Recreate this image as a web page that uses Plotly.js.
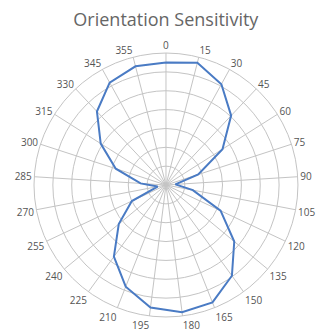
<!DOCTYPE html>
<html>
<head>
<meta charset="utf-8">
<script src="https://cdn.plot.ly/plotly-3.0.1.min.js"></script>
<style>html,body{margin:0;padding:0;background:#fff;}#chart{width:319px;height:333px;}</style>
</head>
<body>
<div id="chart"></div>
<script>
// Angular categories (tick labels as printed on the chart)
const angles = ["0","15","30","45","60","75","90","105","120","135","150","165","180",
                "195","210","225","240","255","270","285","300","315","330","345","355"];
// Sensitivity value per orientation
const sensitivity = [130,134,122,101,71,36,10,29,64,94,119,134,136,
                     131,116,94,65,40,9,27,56,82,107,124,130];

// close the loop by returning to the first category
const theta = angles.concat([angles[0]]);
const r = sensitivity.concat([sensitivity[0]]);

const trace = {
  type: 'scatterpolar',
  mode: 'lines',
  theta: theta,
  r: r,
  line: {color: '#4a7bc4', width: 2},
  hoverinfo: 'skip',
  showlegend: false
};

const layout = {
  width: 319,
  height: 333,
  margin: {l: 0, r: 0, t: 0, b: 0},
  paper_bgcolor: '#ffffff',
  font: {family: 'Open Sans, DejaVu Sans, sans-serif', color: '#555555'},
  title: {
    text: 'Orientation Sensitivity',
    font: {size: 18, color: '#666666', family: 'Open Sans, sans-serif'},
    x: 0.52, xanchor: 'center',
    y: 0.94, yanchor: 'middle'
  },
  polar: {
    domain: {x: [0.1066, 0.934], y: [0.048, 0.8408]},
    bgcolor: '#ffffff',
    angularaxis: {
      type: 'category',
      direction: 'clockwise',
      rotation: 90,
      showgrid: true,
      gridcolor: '#c4c4c4',
      gridwidth: 1,
      showline: true,
      linecolor: '#c4c4c4',
      linewidth: 1,
      ticks: '',
      tickfont: {size: 10, color: '#555555'}
    },
    radialaxis: {
      range: [0, 140],
      dtick: 20,
      showgrid: true,
      gridcolor: '#c4c4c4',
      gridwidth: 1,
      showline: false,
      showticklabels: false,
      ticks: ''
    }
  }
};

Plotly.newPlot('chart', [trace], layout, {displayModeBar: false, staticPlot: true});
</script>
</body>
</html>
